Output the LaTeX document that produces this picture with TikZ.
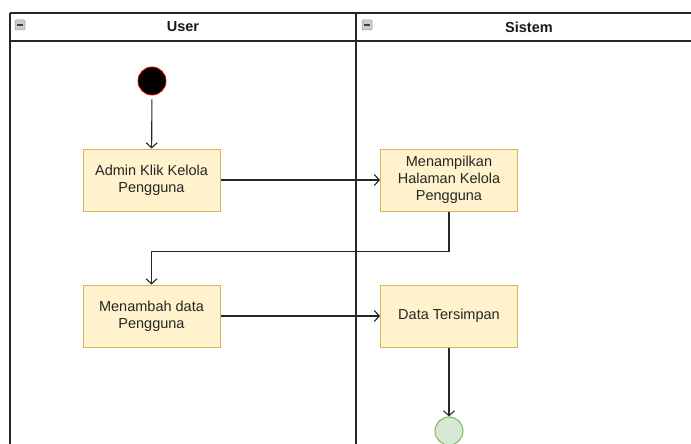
\documentclass[tikz,border=0pt]{standalone}
\usepackage{fontspec}
\setmainfont{Liberation Sans}
\usetikzlibrary{arrows.meta, positioning}
\definecolor{boxfill}{HTML}{FFF2CC}
\definecolor{boxline}{HTML}{D6B656}
\definecolor{endfill}{HTML}{D5E8D4}
\definecolor{endline}{HTML}{82B366}

\begin{document}
\begin{tikzpicture}[x=1pt,y=-1pt,
        lane/.style={draw=black!85, line width=1.6pt},
        hdr/.style={font=\fontsize{14.5}{17}\selectfont\bfseries, text=black!90},
        toggle/.style={fill=black!20, draw=black!40, line width=0.5pt, rounded corners=1pt},
        aksi/.style={draw=boxline, fill=boxfill, line width=1pt, minimum width=137pt,
            minimum height=62pt, align=center, inner sep=2pt, text=black!85,
            font=\fontsize{14.5}{17}\selectfont},
        alur/.style={draw=black!85, line width=1.1pt, -{Straight Barb[length=5pt,width=11pt]}}]
        \useasboundingbox (0,0) rectangle (691,444);
        \clip (0,0) rectangle (691,444);
        \draw [lane] (10,13) -- (705,13);
        \draw [lane] (10,41) -- (705,41);
        \draw [lane] (10,13) -- (10,450);
        \draw [lane] (356,13) -- (356,450);
        \draw [toggle] (15,20) rectangle (25,30);
        \draw [black!75, line width=1.2pt] (17,25) -- (23,25);
        \draw [toggle] (362,20) rectangle (372,30);
        \draw [black!75, line width=1.2pt] (364,25) -- (370,25);
        \node [hdr] (hdruser) at (183,27) {User};
        \node [hdr] (hdrsistem) at (529,27) {Sistem};
        \node [circle, fill=black, draw=red!85!black, line width=0.8pt, minimum size=28pt, inner sep=0pt] (mulai) at (152,81) {};
        \node [aksi] (klik) at (151.5,180) {Admin Klik Kelola\\Pengguna};
        \node [aksi] (tampil) at (449,180) {Menampilkan\\Halaman Kelola\\Pengguna};
        \node [aksi] (tambah) at (151.5,316) {Menambah data\\Pengguna};
        \node [aksi] (simpan) at (449,316) {Data Tersimpan};
        \node [circle, fill=endfill, draw=endline, line width=1pt, minimum size=28pt, inner sep=0pt] (selesai) at (449,431) {};
        \draw [alur, shorten <=4pt] (mulai) -- (klik);
        \draw [alur] (klik) -- (tampil);
        \draw [alur] (tampil.south) -- ++(0,40) -| (tambah.north);
        \draw [alur] (tambah) -- (simpan);
        \draw [alur] (simpan) -- (selesai);
\end{tikzpicture}
\end{document}
